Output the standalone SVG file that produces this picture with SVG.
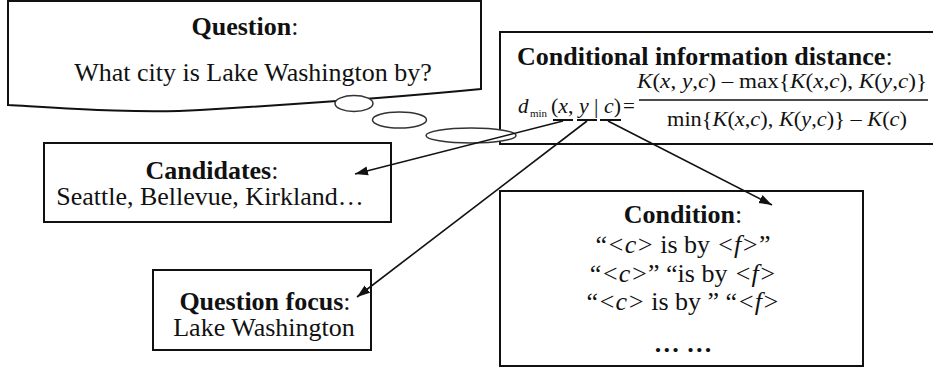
<svg xmlns="http://www.w3.org/2000/svg" width="933" height="371" viewBox="0 0 933 371">
<style>
text{font-family:'Liberation Serif','DejaVu Serif',serif;fill:#111}
.t{font-size:26px}
.b{font-weight:bold}
.i{font-style:italic}
.f{font-size:21px}
.box{fill:#fff;stroke:#111;stroke-width:2}
.ell{fill:#fff;stroke:#333;stroke-width:1.5}
.con{stroke:#111;stroke-width:1.6;fill:none;marker-end:url(#ah)}
.dash{stroke:#111;stroke-width:2}
</style>
<defs>
<marker id="ah" markerUnits="userSpaceOnUse" markerWidth="14" markerHeight="10" refX="13" refY="5" orient="auto">
<path d="M0,0.5 L13,5 L0,9.5 z" fill="#111"/>
</marker>
</defs>
<rect width="933" height="371" fill="#fff"/>

<g id="question">
<path class="box" d="M8,1 L481,1 L481,89 C420,95 300,104 200,110 C140,114 60,108 8,105 Z"/>
<text class="t" x="245" y="35" text-anchor="middle" font-family="Liberation Serif"><tspan class="b">Question</tspan>:</text>
<text class="t" x="253" y="81" text-anchor="middle" font-family="Liberation Serif">What city is Lake Washington by?</text>
</g>

<g id="thought-bubbles">
<ellipse class="ell" cx="354" cy="103.5" rx="19" ry="8"/>
<ellipse class="ell" cx="399.5" cy="120" rx="27" ry="8"/>
</g>

<g id="formula">
<rect class="box" x="500" y="32" width="445" height="112"/>
<ellipse class="ell" cx="471" cy="135.5" rx="45" ry="7.5"/>
<text class="t" x="517" y="65"><tspan class="b">Conditional information distance</tspan>:</text>
<text class="f i" x="518" y="113">d</text>
<text x="530" y="117" style="font-size:11px">min</text>
<text class="f" x="551" y="113" textLength="70" lengthAdjust="spacingAndGlyphs">(<tspan class="i">x</tspan>, <tspan class="i">y</tspan> | <tspan class="i">c</tspan>)</text>
<text class="f" x="623" y="113">=</text>
<text class="f" x="637" y="88" textLength="290" lengthAdjust="spacingAndGlyphs"><tspan class="i">K</tspan>(<tspan class="i">x</tspan>, <tspan class="i">y</tspan>,<tspan class="i">c</tspan>) – max{<tspan class="i">K</tspan>(<tspan class="i">x</tspan>,<tspan class="i">c</tspan>), <tspan class="i">K</tspan>(<tspan class="i">y</tspan>,<tspan class="i">c</tspan>)}</text>
<line x1="639" y1="100" x2="928" y2="100" stroke="#111" stroke-width="1.3"/>
<text class="f" x="667" y="126" textLength="240" lengthAdjust="spacingAndGlyphs">min{<tspan class="i">K</tspan>(<tspan class="i">x</tspan>,<tspan class="i">c</tspan>), <tspan class="i">K</tspan>(<tspan class="i">y</tspan>,<tspan class="i">c</tspan>)} – <tspan class="i">K</tspan>(<tspan class="i">c</tspan>)</text>
<line class="dash" x1="553" y1="120" x2="573" y2="120"/>
<line class="dash" x1="577" y1="120" x2="597" y2="120"/>
<line class="dash" x1="600" y1="120" x2="621" y2="120"/>
</g>

<g id="candidates">
<rect class="box" x="44" y="143" width="347" height="79"/>
<text class="t" x="212" y="179" text-anchor="middle"><tspan class="b">Candidates</tspan>:</text>
<text class="t" x="210" y="205" text-anchor="middle">Seattle, Bellevue, Kirkland…</text>
</g>

<g id="question-focus">
<rect class="box" x="153" y="270" width="218" height="80"/>
<text class="t" x="265" y="310" text-anchor="middle"><tspan class="b">Question focus</tspan>:</text>
<text class="t" x="264" y="336" text-anchor="middle">Lake Washington</text>
</g>

<g id="condition">
<rect class="box" x="500" y="191" width="363" height="175"/>
<text class="t" x="683" y="223" text-anchor="middle"><tspan class="b">Condition</tspan>:</text>
<text class="t" x="683" y="253" text-anchor="middle">“<tspan class="i">&lt;c&gt;</tspan> is by <tspan class="i">&lt;f&gt;</tspan>”</text>
<text class="t" x="683" y="282" text-anchor="middle">“<tspan class="i">&lt;c&gt;</tspan>” “is by <tspan class="i">&lt;f&gt;</tspan></text>
<text class="t" x="683" y="310" text-anchor="middle">“<tspan class="i">&lt;c&gt;</tspan> is by ” “<tspan class="i">&lt;f&gt;</tspan></text>
<text class="t b" x="683" y="352" text-anchor="middle">… …</text>
</g>

<g id="connectors">
<line class="con" x1="563" y1="121" x2="355" y2="174"/>
<line class="con" x1="587" y1="121" x2="357" y2="297"/>
<line class="con" x1="608" y1="121" x2="772" y2="205"/>
</g>
</svg>
